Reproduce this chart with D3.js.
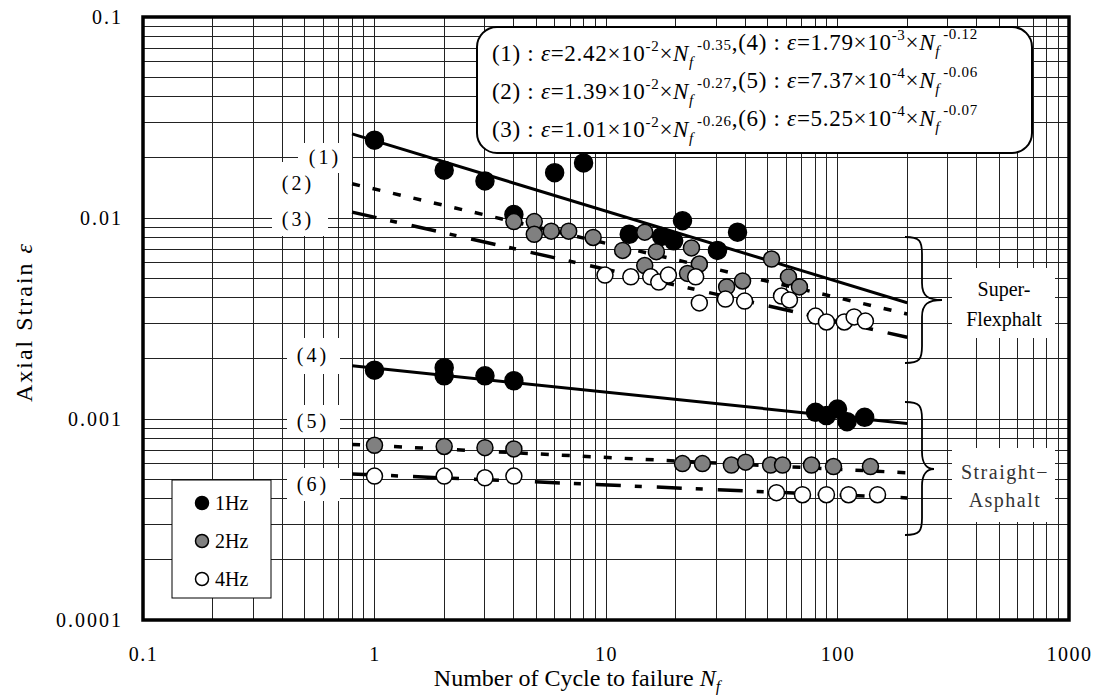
<!DOCTYPE html>
<html><head><meta charset="utf-8">
<script src="https://cdn.jsdelivr.net/npm/d3@7"></script>
<style>
body{margin:0;background:#fff;}
svg{display:block;}
text{font-family:"Liberation Serif","DejaVu Serif",serif;fill:#000;}
</style></head>
<body>
<svg id="c" width="1099" height="695"></svg>
<script>
// ---- data ----
const xTickValues = [0.1, 1, 10, 100, 1000];
const xTickLabels = ["0.1", "1", "10", "100", "1000"];
const yTickValues = [0.0001, 0.001, 0.01, 0.1];
const yTickLabels = ["0.0001", "0.001", "0.01", "0.1"];

// Super-Flexphalt
const sf1N = [1, 2, 3, 4, 6, 8, 12.6, 17.4, 19.6, 21.4, 30.3, 37];
const sf1E = [0.0244, 0.0173, 0.0153, 0.0104, 0.0168, 0.0188, 0.0083, 0.0081, 0.0077, 0.0097, 0.0069, 0.0085];
const sf2N = [4, 4.9, 4.9, 5.8, 6.9, 8.8, 11.8, 14.7, 16.5, 14.7, 23.4, 25.3, 22.5, 33.2, 38.9, 51.9, 61.4, 68.5];
const sf2E = [0.0096, 0.0096, 0.0083, 0.0086, 0.0086, 0.0080, 0.0069, 0.0085, 0.0068, 0.0058, 0.0071, 0.0059, 0.0053, 0.00454, 0.00486, 0.00625, 0.00509, 0.00454];
const sf4N = [9.9, 12.8, 15.6, 16.9, 18.6, 24.4, 25.3, 32.8, 39.7, 57.3, 62, 80.4, 89.6, 107, 118, 132];
const sf4E = [0.0052, 0.0051, 0.0051, 0.0048, 0.0052, 0.0051, 0.00378, 0.00395, 0.00386, 0.00409, 0.00391, 0.00325, 0.00304, 0.00304, 0.00322, 0.00307];
// Straight-Asphalt
const sa1N = [1, 2, 2, 3, 4, 80.4, 89.6, 100, 110, 131];
const sa1E = [0.00175, 0.00180, 0.00164, 0.00164, 0.00155, 0.00108, 0.00104, 0.00112, 0.00097, 0.00102];
const sa2N = [1, 2, 3, 4, 21.4, 26.1, 34.8, 40.1, 51.4, 57.9, 77.2, 96.1, 138.8];
const sa2E = [0.00074, 0.00073, 0.00072, 0.00071, 0.00060, 0.00060, 0.00059, 0.00061, 0.00059, 0.00059, 0.00059, 0.00058, 0.00058];
const sa4N = [1, 2, 3, 4, 54.5, 70.6, 89.6, 111.6, 148.9];
const sa4E = [0.00052, 0.00052, 0.00051, 0.00052, 0.00043, 0.00042, 0.00042, 0.00042, 0.00042];

// fitted lines eps = a * Nf^b (legend text) and the drawn line ends
const fitNames = ["(1)", "(2)", "(3)", "(4)", "(5)", "(6)"];
const fitCoefText = [["2.42", "-2"], ["1.39", "-2"], ["1.01", "-2"], ["1.79", "-3"], ["7.37", "-4"], ["5.25", "-4"]];
const fitExpText = ["-0.35", "-0.27", "-0.26", "-0.12", "-0.06", "-0.07"];
const lineN = [0.8, 200];
const lineStartE = [0.0262, 0.0148, 0.0107, 0.00184, 0.000747, 0.000533];
const lineEndE = [0.00379, 0.00333, 0.00255, 0.00095, 0.00054, 0.000405];

const legendLabels = ["1Hz", "2Hz", "4Hz"];
const groupLabels = [["Super-", "Flexphalt"], ["Straight\u2212", "Asphalt"]];

// ---- drawing ----
const svg = d3.select("#c");
const L = 143, R = 1069, T = 17, B = 620;
const x = d3.scaleLog().domain([0.1, 1000]).range([L, R]);
const y = d3.scaleLog().domain([0.0001, 0.1]).range([B, T]);

// grid
const gx = [], gy = [];
for (let d = 0.1; d < 1000; d *= 10) for (let k = 1; k <= 10; k++) gx.push(+(d * k).toPrecision(3));
for (let d = 0.0001; d < 0.1; d *= 10) for (let k = 1; k <= 10; k++) gy.push(+(d * k).toPrecision(3));
const grid = svg.append("g");
grid.selectAll("line.vx").data(gx).join("line")
  .attr("x1", d => x(d)).attr("x2", d => x(d)).attr("y1", T).attr("y2", B)
  .attr("stroke", "#222").attr("stroke-width", 1).attr("shape-rendering", "crispEdges");
grid.selectAll("line.hy").data(gy).join("line")
  .attr("y1", d => y(d)).attr("y2", d => y(d)).attr("x1", L).attr("x2", R)
  .attr("stroke", "#222").attr("stroke-width", 1).attr("shape-rendering", "crispEdges");

// white boxes behind left labels
const labelPos = [[325, 157], [298, 183], [298, 219], [313, 355], [313, 421], [313, 484]];
const lblBoxes = [[298, 143, 54, 30], [272, 162, 56, 38], [272, 200, 56, 36], [287, 338, 53, 36], [287, 405, 53, 33], [287, 468, 53, 33]];
svg.append("g").selectAll("rect").data(lblBoxes).join("rect")
  .attr("x", d => d[0]).attr("y", d => d[1]).attr("width", d => d[2]).attr("height", d => d[3]).attr("fill", "#fff");
svg.append("g").selectAll("text").data(fitNames).join("text")
  .attr("x", (d, i) => labelPos[i][0]).attr("y", (d, i) => labelPos[i][1] + 7)
  .attr("text-anchor", "middle").attr("font-size", 20).attr("letter-spacing", 3).text(d => d);

// right group boxes
svg.append("rect").attr("x", 952).attr("y", 268).attr("width", 103).attr("height", 70).attr("fill", "#fff");
svg.append("rect").attr("x", 952).attr("y", 448).attr("width", 103).attr("height", 74).attr("fill", "#fff");
const gl = svg.append("g").attr("font-size", 20).attr("text-anchor", "middle");
gl.append("text").attr("x", 1004).attr("y", 296).text(groupLabels[0][0]);
gl.append("text").attr("x", 1004).attr("y", 326).text(groupLabels[0][1]);
gl.append("text").attr("x", 1005).attr("y", 479).attr("letter-spacing", 1.5).style("fill", "#333").text(groupLabels[1][0]);
gl.append("text").attr("x", 1005).attr("y", 507).attr("letter-spacing", 1.5).style("fill", "#333").text(groupLabels[1][1]);

// braces
function brace(xv, y0, y1, tipX, tipY) {
  const c = 17;
  return `M${xv - 17},${y0} C${xv - 2},${y0} ${xv},${y0 + 4} ${xv},${y0 + c}` +
    ` L${xv},${tipY - c} C${xv},${tipY - 4} ${xv + 6},${tipY} ${tipX},${tipY}` +
    ` C${xv + 6},${tipY} ${xv},${tipY + 4} ${xv},${tipY + c}` +
    ` L${xv},${y1 - c} C${xv},${y1 - 4} ${xv - 2},${y1} ${xv - 17},${y1}`;
}
svg.append("path").attr("d", brace(922, 237, 363, 942, 300)).attr("fill", "none").attr("stroke", "#000").attr("stroke-width", 1.8);
svg.append("path").attr("d", brace(922, 402, 535, 934, 469)).attr("fill", "none").attr("stroke", "#000").attr("stroke-width", 1.8);

// fit lines
const dashes = [null, "8,13", "25,14,7,15", null, "8,13", "25,14,7,15"];
const lineG = svg.append("g");
lineStartE.forEach((e0, i) => {
  const pts = [[x(lineN[0]), y(e0)], [x(lineN[1]), y(lineEndE[i])]];
  lineG.append("path").attr("d", d3.line()(pts)).attr("fill", "none")
    .attr("stroke", "#000").attr("stroke-width", i === 0 || i === 3 ? 3 : 3.5)
    .attr("stroke-dasharray", dashes[i]);
});

// points
const series = [
  {n: sf1N, e: sf1E, f: "#000", r: 9},
  {n: sa1N, e: sa1E, f: "#000", r: 9},
  {n: sf2N, e: sf2E, f: "#808080", r: 8},
  {n: sa2N, e: sa2E, f: "#808080", r: 8},
  {n: sf4N, e: sf4E, f: "#fff", r: 8},
  {n: sa4N, e: sa4E, f: "#fff", r: 8}
];
series.forEach(s => {
  svg.append("g").selectAll("circle").data(s.n).join("circle")
    .attr("cx", d => x(d)).attr("cy", (d, i) => y(s.e[i])).attr("r", s.r)
    .attr("fill", s.f).attr("stroke", "#000").attr("stroke-width", 1.5);
});

// equation box
svg.append("rect").attr("x", 477).attr("y", 27).attr("width", 555).attr("height", 126)
  .attr("rx", 20).attr("fill", "#fff").attr("stroke", "#000").attr("stroke-width", 2);
const eq = svg.append("g").attr("font-size", 23).attr("letter-spacing", 0.7);
function eqPart(t, i) {
  t.append("tspan").text(fitNames[i] + " : ");
  t.append("tspan").attr("font-style", "italic").text("\u03b5");
  t.append("tspan").text("=" + fitCoefText[i][0] + "\u00d710");
  t.append("tspan").attr("font-size", 15).attr("dy", -10).text(fitCoefText[i][1]);
  t.append("tspan").attr("dy", 10).text("\u00d7");
  t.append("tspan").attr("font-style", "italic").text("N");
  t.append("tspan").attr("font-style", "italic").attr("font-size", 15).attr("dy", 6).text("f");
  t.append("tspan").attr("font-size", 15).attr("dy", -17).attr("dx", 3).text(fitExpText[i]);
  t.append("tspan").attr("dy", 11).text("");
}
[0, 1, 2].forEach(r => {
  const t = eq.append("text").attr("x", 492).attr("y", 61 + r * 38);
  eqPart(t, r);
  t.append("tspan").text(",");
  eqPart(t, r + 3);
});

// legend
const lg = svg.append("g");
lg.append("rect").attr("x", 172).attr("y", 480).attr("width", 99).attr("height", 118)
  .attr("fill", "#fff").attr("stroke", "#000").attr("stroke-width", 1);
const legFill = ["#000", "#808080", "#fff"];
legendLabels.forEach((l, i) => {
  lg.append("circle").attr("cx", 202).attr("cy", 503 + i * 38).attr("r", 6.5)
    .attr("fill", legFill[i]).attr("stroke", "#000").attr("stroke-width", 1.5);
  lg.append("text").attr("x", 215).attr("y", 510 + i * 38).attr("font-size", 20).text(l);
});

// frame
svg.append("rect").attr("x", L).attr("y", T).attr("width", R - L).attr("height", B - T)
  .attr("fill", "none").attr("stroke", "#000").attr("stroke-width", 3.5);

// axes labels via d3 axes (ticks hidden, labels only)
const xAxis = d3.axisBottom(x).tickValues(xTickValues).tickFormat((d, i) => xTickLabels[i]).tickSize(0).tickPadding(27);
const gxA = svg.append("g").attr("transform", `translate(0,${B})`).call(xAxis);
gxA.select(".domain").remove();
gxA.selectAll("text").attr("font-size", 20).attr("font-family", "Liberation Serif").attr("letter-spacing", 1.5);
const yAxis = d3.axisLeft(y).tickValues(yTickValues).tickFormat((d, i) => yTickLabels[i]).tickSize(0).tickPadding(20);
const gyA = svg.append("g").attr("transform", `translate(${L},0)`).call(yAxis);
gyA.select(".domain").remove();
gyA.selectAll("text").attr("font-size", 20).attr("font-family", "Liberation Serif").attr("letter-spacing", 2);

// axis titles
const xt = svg.append("text").attr("x", 577).attr("y", 686).attr("text-anchor", "middle").attr("font-size", 24);
xt.append("tspan").text("Number of Cycle to failure  ");
xt.append("tspan").attr("font-style", "italic").text("N");
xt.append("tspan").attr("font-style", "italic").attr("font-size", 16).attr("dy", 6).text("f");
const yt = svg.append("text").attr("transform", "translate(32,322) rotate(-90)").attr("text-anchor", "middle").attr("font-size", 24).attr("letter-spacing", 2);
yt.append("tspan").text("Axial  Strain   ");
yt.append("tspan").attr("font-style", "italic").text("\u03b5");
</script>
</body></html>
